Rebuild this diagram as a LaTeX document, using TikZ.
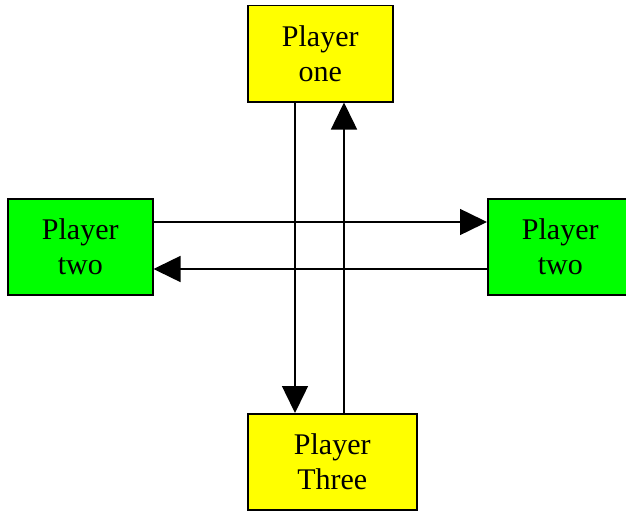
\documentclass[tikz,border=0pt]{standalone}
\usepackage{fontspec}
\setmainfont{Liberation Serif}
\usetikzlibrary{arrows.meta}
\definecolor{pyellow}{RGB}{255,255,0}
\definecolor{pgreen}{RGB}{0,255,0}
\begin{document}
\begin{tikzpicture}[x=1pt,y=-1pt,
  playerbox/.style={draw=black, line width=1.5pt, inner sep=0pt, minimum height=96pt,
    align=center, font=\fontsize{30}{35}\selectfont, anchor=north west},
  conn/.style={line width=1.5pt, -{Triangle[length=27pt,width=26pt]}}]
\useasboundingbox (0,0) rectangle (626,511);
\clip (0,0) rectangle (626,511);
\node[playerbox, fill=pyellow, minimum width=145pt] (p1) at (247,5) {Player\\one};
\node[playerbox, fill=pgreen, minimum width=145pt] (l) at (7,198) {Player\\two};
\node[playerbox, fill=pgreen, minimum width=145pt] (r) at (487,198) {Player\\two};
\node[playerbox, fill=pyellow, minimum width=169pt] (p3) at (247,413) {Player\\Three};
\draw[conn] ([xshift=48pt]p1.south west) -- ([xshift=48pt]p1.south west |- p3.north);
\draw[conn] ([xshift=97pt]p3.north west) -- ([xshift=97pt]p3.north west |- p1.south);
\draw[conn] ([yshift=-24pt]l.north east) -- ([yshift=-24pt]l.north east -| r.west);
\draw[conn] ([yshift=-71pt]r.north west) -- ([yshift=-71pt]r.north west -| l.east);
\end{tikzpicture}
\end{document}
